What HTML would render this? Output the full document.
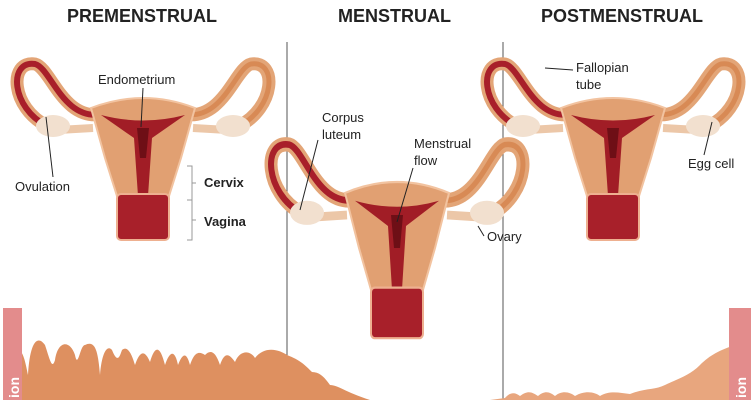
<!DOCTYPE html>
<html><head><meta charset="utf-8"><style>
html,body{margin:0;padding:0;background:#fff}
svg{display:block}
text{font-family:"Liberation Sans",sans-serif;fill:#222}
</style></head><body>
<svg width="751" height="400" viewBox="0 0 751 400">
<defs>
<g id="ut">
 <path d="M-40,16 C-80,24 -92,-30 -108,-34 C-135,-38 -132,10 -96,28" fill="none" stroke="#e3a577" stroke-width="13" stroke-linecap="round"/>
 <path d="M-40,16 C-80,24 -92,-30 -108,-34 C-135,-38 -132,10 -96,28" fill="none" stroke="#a81f2a" stroke-width="6"/>
 <path d="M40,16 C80,24 92,-30 108,-34 C135,-38 132,10 96,28" fill="none" stroke="#e3a577" stroke-width="13" stroke-linecap="round"/>
 <path d="M40,16 C80,24 92,-30 108,-34 C135,-38 132,10 96,28" fill="none" stroke="#d88a55" stroke-width="5"/>
 <path d="M-50,30 L-85,32" stroke="#ecc7a8" stroke-width="8"/>
 <path d="M50,30 L85,32" stroke="#ecc7a8" stroke-width="8"/>
 <ellipse cx="-90" cy="28" rx="17" ry="11" fill="#f2e0cf"/>
 <ellipse cx="90" cy="28" rx="17" ry="11" fill="#f2e0cf"/>
 <path d="M-52,10 Q0,-10 52,10 L38,60 L26,98 L-26,98 L-38,60 Z" fill="#e1a072" stroke="#f2c3a0" stroke-width="2"/>
 <path d="M-42,17 Q0,28 42,17 L9,40 L5,98 L-5,98 L-9,40 Z" fill="#a11d26"/>
 <path d="M-6,30 L6,30 L3,60 L-3,60 Z" fill="#6e0f16"/>
 <rect x="-26" y="96" width="52" height="46" rx="4" fill="#a8202a" stroke="#eeb090" stroke-width="2"/>
</g>
</defs>
<text x="67" y="22" font-size="18" font-weight="bold">PREMENSTRUAL</text>
<text x="338" y="22" font-size="18" font-weight="bold">MENSTRUAL</text>
<text x="541" y="22" font-size="18" font-weight="bold">POSTMENSTRUAL</text>
<line x1="287" y1="42" x2="287" y2="400" stroke="#555" stroke-width="1"/>
<line x1="503" y1="42" x2="503" y2="400" stroke="#555" stroke-width="1"/>
<use href="#ut" transform="translate(143,98)"/>
<use href="#ut" transform="translate(397,182) scale(1,1.1)"/>
<use href="#ut" transform="translate(613,98)"/>
<path d="M15,400 L15,352 C22,345 25,360 28,375 C30,340 38,335 45,345 C50,360 52,370 55,360 C58,340 70,340 75,355 C78,370 80,345 85,345 C95,340 98,350 100,375 C102,350 108,345 112,350 C118,365 120,355 122,350 C128,345 132,355 135,365 C140,350 145,350 150,362 C155,345 160,345 165,365 C170,350 175,350 178,365 C182,355 186,350 190,365 C195,350 200,352 205,355 C210,350 215,350 220,365 C225,350 230,355 235,362 C240,350 250,350 255,358 C265,345 280,350 287,355 C300,360 305,365 312,372 C320,372 325,378 330,385 C338,385 345,392 370,400 Z" fill="#de9060"/>
<path d="M490,400 L505,398 C510,392 515,392 520,396 C528,390 532,392 538,396 C545,390 550,392 555,396 C562,390 570,392 575,396 C585,390 595,392 600,396 C610,390 620,393 630,394 C645,388 655,390 665,385 C680,378 690,375 700,365 C710,355 720,350 735,345 L735,400 Z" fill="#e8a67e"/>
<rect x="3" y="308" width="19" height="92" fill="#e38c8c"/>
<rect x="729" y="308" width="22" height="92" fill="#e38c8c"/>
<text transform="translate(19,398) rotate(-90)" font-size="14" font-weight="bold" style="fill:#fff">ion</text>
<text transform="translate(746,398) rotate(-90)" font-size="14" font-weight="bold" style="fill:#fff">ion</text>
<text x="98" y="84" font-size="13">Endometrium</text>
<line x1="143" y1="88" x2="141" y2="127" stroke="#222" stroke-width="1"/>
<text x="15" y="191" font-size="13">Ovulation</text>
<line x1="46" y1="117" x2="53" y2="177" stroke="#222" stroke-width="1"/>
<path d="M187,166 L192,166 L192,200 L187,200 M192,183 L196,183 M187,200 L192,200 L192,240 L187,240 M192,220 L196,220" fill="none" stroke="#999" stroke-width="1"/>
<text x="204" y="187" font-size="13" font-weight="bold">Cervix</text>
<text x="204" y="226" font-size="13" font-weight="bold">Vagina</text>
<text x="322" y="122" font-size="13">Corpus</text>
<text x="322" y="139" font-size="13">luteum</text>
<line x1="318" y1="140" x2="300" y2="210" stroke="#222" stroke-width="1"/>
<text x="414" y="148" font-size="13">Menstrual</text>
<text x="414" y="165" font-size="13">flow</text>
<line x1="413" y1="168" x2="397" y2="222" stroke="#222" stroke-width="1"/>
<text x="487" y="241" font-size="13">Ovary</text>
<line x1="484" y1="236" x2="478" y2="226" stroke="#222" stroke-width="1"/>
<text x="576" y="72" font-size="13">Fallopian</text>
<text x="576" y="89" font-size="13">tube</text>
<line x1="573" y1="70" x2="545" y2="68" stroke="#222" stroke-width="1"/>
<text x="688" y="168" font-size="13">Egg cell</text>
<line x1="704" y1="155" x2="712" y2="122" stroke="#222" stroke-width="1"/>
</svg>
</body></html>
